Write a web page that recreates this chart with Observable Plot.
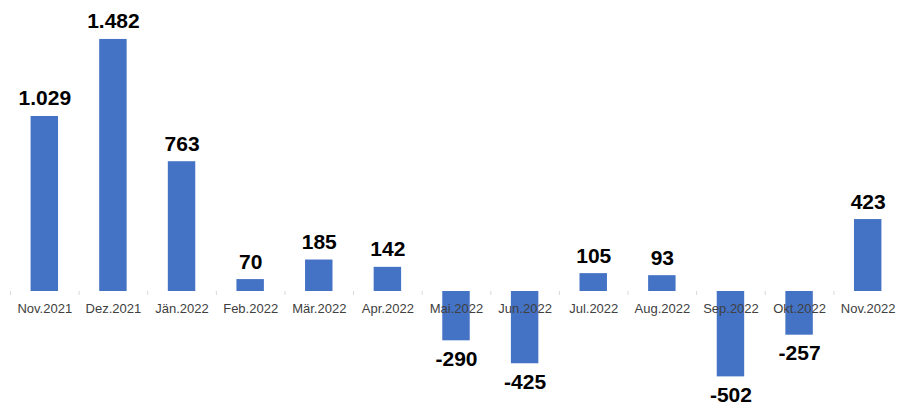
<!DOCTYPE html>
<html>
<head>
<meta charset="utf-8">
<script src="https://cdn.jsdelivr.net/npm/d3@7"></script>
<script src="https://cdn.jsdelivr.net/npm/@observablehq/plot@0.6"></script>
<style>
  html, body { margin: 0; padding: 0; background: #fff; }
  #chart svg { display: block; font-family: "Liberation Sans", Arial, sans-serif; }
</style>
</head>
<body>
<div id="chart"></div>
<script>
const months = ["Nov.2021","Dez.2021","Jän.2022","Feb.2022","Mär.2022","Apr.2022","Mai.2022","Jun.2022","Jul.2022","Aug.2022","Sep.2022","Okt.2022","Nov.2022"];
const values = [1029, 1482, 763, 70, 185, 142, -290, -425, 105, 93, -502, -257, 423];

const data = months.map((m, i) => ({month: m, value: values[i]}));
const fmt = d3.formatLocale({decimal: ",", thousands: ".", grouping: [3], currency: ["", "€"], minus: "-"}).format(",d");

const W = 898, H = 408;
const xRange = [10, 902];
const step = (xRange[1] - xRange[0]) / months.length;

const chart = Plot.plot({
  width: W,
  height: H,
  marginLeft: 0,
  marginRight: 0,
  marginTop: 0,
  marginBottom: 0,
  style: {fontFamily: "'Liberation Sans', Arial, sans-serif", background: "#fff", overflow: "hidden"},
  x: {domain: months, range: xRange, round: false, paddingInner: 0.6, paddingOuter: 0.3, axis: null},
  y: {domain: [-688, 1711], range: [H, 0], axis: null},
  marks: [
    Plot.barY(data, {x: "month", y: "value", fill: "#4472C4"}),
    Plot.ruleY([0], {x1: months[0], x2: months[months.length - 1], stroke: "#d9d9d9", strokeWidth: 1, insetLeft: -step / 2, insetRight: -step / 2}),
    Plot.ruleX(months, {x: d => d, dx: -step / 2, y1: 0, y2: 0, insetBottom: -4, stroke: "#d9d9d9"}),
    Plot.text(months, {x: d => d, y: 0, text: d => d, lineAnchor: "top", dy: 12, fontSize: 13, fill: "#404040"}),
    Plot.text(data.filter(d => d.value >= 0), {x: "month", y: "value", text: d => fmt(d.value), lineAnchor: "bottom", dy: -11, fontSize: 21, fontWeight: "bold", fill: "#000"}),
    Plot.text(data.filter(d => d.value < 0), {x: "month", y: "value", text: d => fmt(d.value), lineAnchor: "top", dy: 10, fontSize: 21, fontWeight: "bold", fill: "#000"})
  ]
});
document.getElementById("chart").appendChild(chart);
</script>
</body>
</html>
